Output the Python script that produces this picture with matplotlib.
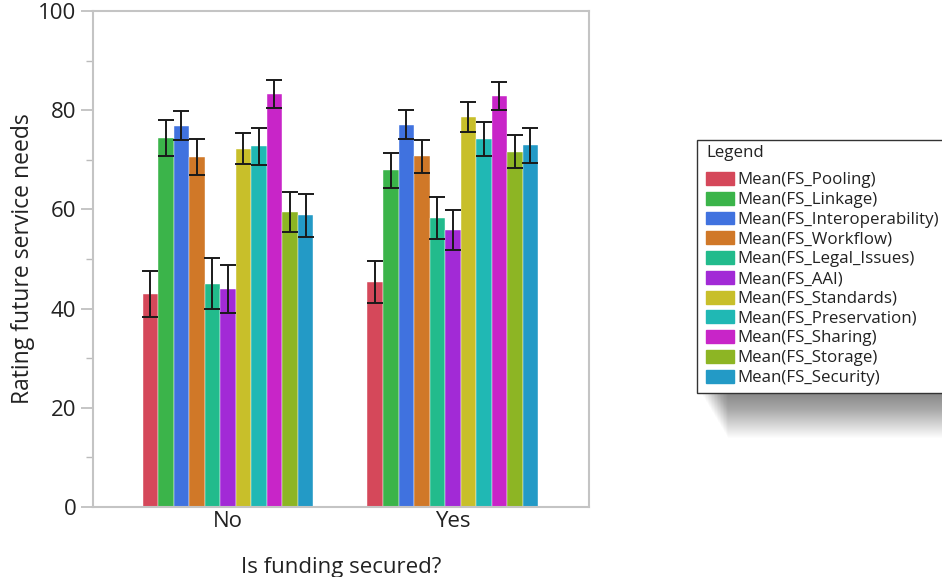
import matplotlib
matplotlib.use('Agg')
import matplotlib.pyplot as plt
import matplotlib.patches as mpatches
from matplotlib.ticker import MultipleLocator
import numpy as np

plt.rcParams['font.family'] = ['Open Sans', 'DejaVu Sans']

# Mean ratings per funding group, with error bar half-widths
groups = ['No', 'Yes']
measures = ['FS_Pooling', 'FS_Linkage', 'FS_Interoperability', 'FS_Workflow',
            'FS_Legal_Issues', 'FS_AAI', 'FS_Standards', 'FS_Preservation',
            'FS_Sharing', 'FS_Storage', 'FS_Security']
means_no = [42.9, 74.4, 76.9, 70.6, 45.0, 44.0, 72.2, 72.7, 83.3, 59.5, 58.8]
means_yes = [45.4, 67.9, 77.1, 70.7, 58.2, 55.9, 78.6, 74.2, 82.9, 71.6, 72.9]
err_no = [4.6, 3.7, 3.0, 3.6, 5.1, 4.8, 3.1, 3.7, 2.8, 4.0, 4.4]
err_yes = [4.2, 3.5, 3.0, 3.3, 4.2, 4.0, 3.0, 3.5, 2.8, 3.3, 3.5]
colors = ['#d5485a', '#3bb44a', '#4072df', '#d07828', '#22bb8c', '#a22ad6',
          '#c8bf2a', '#20b8b4', '#c825c8', '#8db524', '#239ac6']

W, H = 942, 577
fig = plt.figure(figsize=(W / 100, H / 100), dpi=100)
ax = fig.add_axes([0.0987, 0.1213, 0.5265, 0.8597])

x = np.arange(len(groups))
width = 0.069
n = len(measures)
for i, name in enumerate(measures):
    offs = (i - (n - 1) / 2) * width
    vals = [means_no[i], means_yes[i]]
    errs = [err_no[i], err_yes[i]]
    ax.bar(x + offs, vals, width, color=colors[i], label='Mean(%s)' % name,
           edgecolor='white', linewidth=0.3, zorder=2)
    ax.errorbar(x + offs, vals, yerr=errs, fmt='none', ecolor='#1a1a1a',
                elinewidth=1.4, capsize=5.5, capthick=1.4, zorder=3)

ax.set_xlim(-0.6, 1.605)
ax.set_ylim(0, 100)
ax.set_xticks(x)
ax.set_xticklabels(groups, fontsize=16, color='#222222')
ax.tick_params(axis='x', length=0, pad=3)
ax.yaxis.set_major_locator(MultipleLocator(20))
ax.yaxis.set_minor_locator(MultipleLocator(10))
ax.tick_params(axis='y', which='major', length=9, width=1.2, color='#bbbbbb',
               labelsize=16, labelcolor='#222222', pad=3)
ax.tick_params(axis='y', which='minor', length=5, width=1.0, color='#bbbbbb')
for sp in ax.spines.values():
    sp.set_color('#c4c4c4')
    sp.set_linewidth(1.5)

ax.set_ylabel('Rating future service needs', fontsize=16.5, color='#222222')
ax.yaxis.set_label_coords(-0.117, 0.5)
ax.set_xlabel('Is funding secured?', fontsize=16, color='#222222', labelpad=18)

# legend box: frame, soft drop shadow and title placed in pixels
bx0, by0, bx1, by1 = 697, 140, 946, 393
lw, lh = (bx1 - bx0) / W, (by1 - by0) / H
for k in range(1, 46):
    fig.patches.append(mpatches.Rectangle(
        ((bx0 + 4 + k * 0.6) / W, 1 - (by1 + k) / H), lw, lh,
        transform=fig.transFigure, facecolor='black', edgecolor='none',
        alpha=0.011, zorder=0))
fig.patches.append(mpatches.Rectangle(
    (bx0 / W, 1 - by1 / H), lw, lh, transform=fig.transFigure,
    facecolor='white', edgecolor='#333333', linewidth=1.0, zorder=1))
fig.text((bx0 + 9) / W, 1 - 153 / H, 'Legend', fontsize=12.2,
         color='#222222', va='center', ha='left')

handles = [mpatches.Patch(color=c) for c in colors]
labels = ['Mean(%s)' % m for m in measures]
leg = fig.legend(handles, labels, loc='upper left',
                 bbox_to_anchor=((bx0 + 9) / W, 1 - 172 / H),
                 fontsize=12.2, frameon=False,
                 handlelength=1.65, handleheight=0.8,
                 handletextpad=0.2, labelspacing=0.2, borderpad=0,
                 borderaxespad=0)
for t in leg.get_texts():
    t.set_color('#222222')
leg.set_zorder(5)

fig.savefig('out.png', dpi=100)
